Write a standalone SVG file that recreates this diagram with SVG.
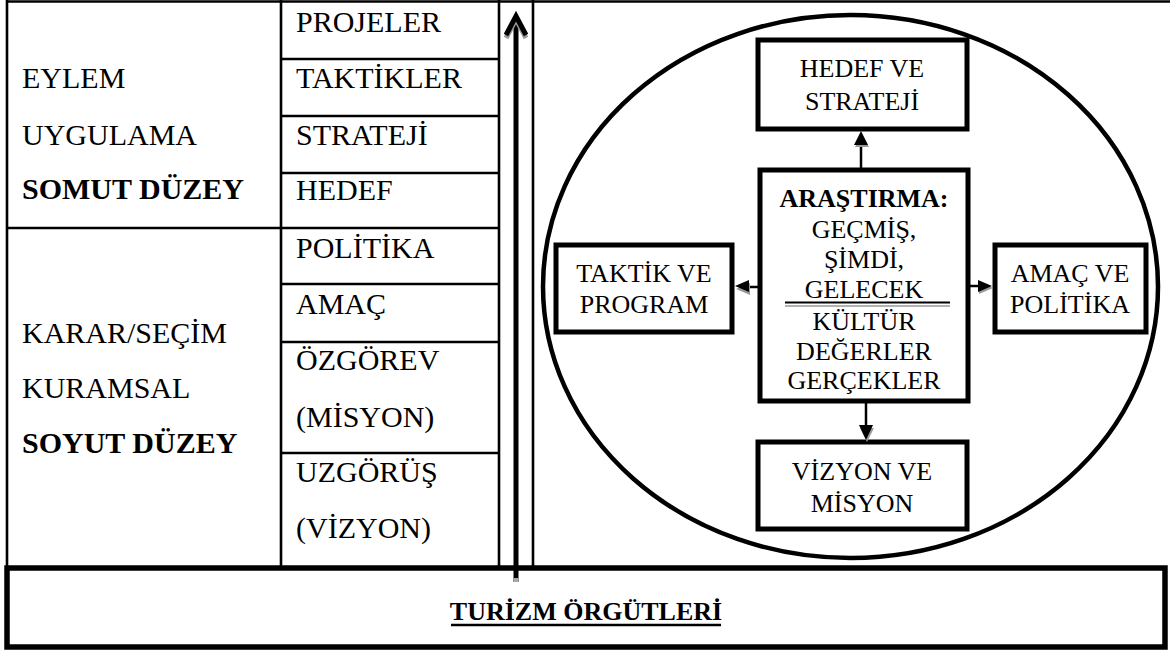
<svg xmlns="http://www.w3.org/2000/svg" width="1170" height="650" viewBox="0 0 1170 650">
<defs>
<style>
.t{font-family:"Liberation Serif","Times New Roman",serif;fill:#000}
.L{font-size:30px}
.b{font-weight:bold}
.c{font-size:26px;text-anchor:middle}
.grid{stroke:#000;stroke-width:2.6;fill:none}
.box{fill:#fff;stroke:#000;stroke-width:5}
.ln{stroke:#000;stroke-width:2.5;fill:none}
.sh{fill:#999}
</style>
</defs>
<rect width="1170" height="650" fill="#fff"/>
<g id="table">
<line class="grid" x1="6" y1="1.5" x2="1170" y2="1.5"/>
<line class="grid" x1="7" y1="0" x2="7" y2="568"/>
<line class="grid" x1="281" y1="0" x2="281" y2="568"/>
<line class="grid" x1="499" y1="0" x2="499" y2="568"/>
<line class="grid" x1="533" y1="0" x2="533" y2="568"/>
<line class="grid" x1="281" y1="59" x2="499" y2="59"/>
<line class="grid" x1="281" y1="116" x2="499" y2="116"/>
<line class="grid" x1="281" y1="173" x2="499" y2="173"/>
<line class="grid" x1="7" y1="228" x2="499" y2="228"/>
<line class="grid" x1="281" y1="284" x2="499" y2="284"/>
<line class="grid" x1="281" y1="342" x2="499" y2="342"/>
<line class="grid" x1="281" y1="453" x2="499" y2="453"/>
</g>
<g id="left-upper">
<text class="t L" x="22" y="88">EYLEM</text>
<text class="t L" x="22" y="145">UYGULAMA</text>
<text class="t L b" x="22" y="199">SOMUT DÜZEY</text>
</g>
<g id="left-lower">
<text class="t L" x="22" y="343">KARAR/SEÇİM</text>
<text class="t L" x="22" y="398">KURAMSAL</text>
<text class="t L b" x="22" y="453">SOYUT DÜZEY</text>
</g>
<g id="levels">
<text class="t L" x="296" y="32">PROJELER</text>
<text class="t L" x="296" y="88">TAKTİKLER</text>
<text class="t L" x="296" y="145">STRATEJİ</text>
<text class="t L" x="296" y="200">HEDEF</text>
<text class="t L" x="296" y="258">POLİTİKA</text>
<text class="t L" x="296" y="314">AMAÇ</text>
<text class="t L" x="296" y="370">ÖZGÖREV</text>
<text class="t L" x="296" y="427">(MİSYON)</text>
<text class="t L" x="296" y="482">UZGÖRÜŞ</text>
<text class="t L" x="296" y="538">(VİZYON)</text>
</g>
<g id="circle">
<ellipse cx="850.5" cy="286.5" rx="307.5" ry="271.5" fill="none" stroke="#000" stroke-width="4.5"/>
</g>
<g id="hedef">
<rect class="box" x="758" y="40" width="209" height="89"/>
<text class="t c" x="862" y="77">HEDEF VE</text>
<text class="t c" x="862" y="110">STRATEJİ</text>
</g>
<g id="taktik">
<rect class="box" x="556" y="245" width="176" height="87"/>
<text class="t c" x="644" y="282">TAKTİK VE</text>
<text class="t c" x="644" y="313">PROGRAM</text>
</g>
<g id="amac">
<rect class="box" x="995" y="245" width="151" height="87"/>
<text class="t c" x="1070" y="282">AMAÇ VE</text>
<text class="t c" x="1070" y="313">POLİTİKA</text>
</g>
<g id="vizyon">
<rect class="box" x="758" y="442" width="209" height="87"/>
<text class="t c" x="862" y="480">VİZYON VE</text>
<text class="t c" x="862" y="512">MİSYON</text>
</g>
<g id="arastirma">
<rect class="box" x="760" y="170" width="208" height="231"/>
<text class="t c b" x="864" y="207">ARAŞTIRMA:</text>
<text class="t c" x="864" y="238">GEÇMİŞ,</text>
<text class="t c" x="864" y="268">ŞİMDİ,</text>
<text class="t c" x="864" y="298">GELECEK</text>
<line x1="785" y1="302.5" x2="950" y2="302.5" stroke="#000" stroke-width="2"/>
<line x1="785" y1="306" x2="950" y2="306" stroke="#999" stroke-width="1.5"/>
<text class="t c" x="864" y="330">KÜLTÜR</text>
<text class="t c" x="864" y="360">DEĞERLER</text>
<text class="t c" x="864" y="389">GERÇEKLER</text>
</g>
<g id="turizm">
<rect x="7" y="568" width="1158" height="79" fill="none" stroke="#000" stroke-width="5.5"/>
<text class="t b" x="586" y="620" font-size="26" text-anchor="middle">TURİZM ÖRGÜTLERİ</text>
<line x1="451" y1="625" x2="721" y2="625" stroke="#000" stroke-width="2.5"/>
</g>
<g id="connectors">
<line x1="516" y1="20" x2="516" y2="582" stroke="#000" stroke-width="5"/>
<rect x="513.5" y="578" width="5" height="4" fill="#aaa"/>
<polyline points="506,38 516,19 526,38" fill="none" stroke="#999" stroke-width="5" stroke-linejoin="miter"/>
<polyline points="506,35 516,16 526,35" fill="none" stroke="#000" stroke-width="5" stroke-linejoin="miter"/>
<line class="ln" x1="861" y1="170" x2="861" y2="144"/>
<polygon class="sh" points="862,134 869,147 855,147"/>
<polygon points="861,131 868,145 854,145"/>
<line class="ln" x1="866" y1="401" x2="866" y2="426"/>
<polygon class="sh" points="867,442 874,428 860,428"/>
<polygon points="866,440 873,425 859,425"/>
<line class="ln" x1="760" y1="287" x2="747" y2="287"/>
<polygon class="sh" points="736,289 750,283 750,295"/>
<polygon points="735,286 749,280 749,292"/>
<line class="ln" x1="968" y1="286" x2="980" y2="286"/>
<polygon class="sh" points="993,288 979,282 979,294"/>
<polygon points="992,286 978,280 978,292"/>
</g>
</svg>
